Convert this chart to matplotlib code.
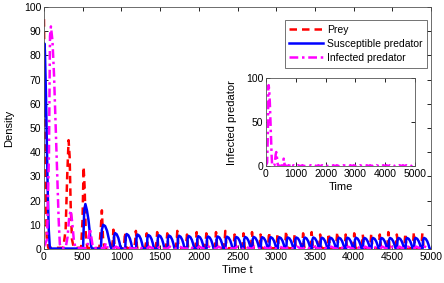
import numpy as np
import matplotlib
matplotlib.use("Agg")
import matplotlib.pyplot as plt

plt.rcParams['font.family'] = ['Liberation Sans', 'DejaVu Sans']

# ---- early transient ----
prey_t0 = [0, 8, 20, 35, 55, 250, 280, 300, 318, 332, 345, 362, 385, 480, 498, 512, 526, 540, 560, 715, 735, 748, 762, 780]
prey_y0 = [95, 70, 30, 5, 0.5, 0.5, 8, 30, 45, 38, 18, 4, 0.5, 0.5, 12, 34, 25, 6, 0.4, 0.4, 9, 16, 5, 0.4]

sus_t0 = [0, 4, 12, 25, 38, 50, 62, 75, 85, 505, 520, 535, 555, 575, 595, 610, 620, 735, 748, 765, 790, 815, 840, 860, 870]
sus_y0 = [55, 85, 82, 65, 42, 22, 8, 1, 0.2, 0.2, 16, 18.6, 16, 12, 6, 1, 0.2, 0.2, 8, 10, 9.5, 7.5, 4, 1, 0.2]

inf_t0 = [0, 40, 65, 78, 90, 110, 130, 150, 170, 190, 205, 220, 280, 305, 325, 345, 365, 385, 405, 420,
          560, 578, 595, 612, 630, 650, 780, 800, 815, 830]
inf_y0 = [1, 4, 40, 88, 92, 86, 72, 52, 32, 12, 2, 0.5, 0.5, 5, 13, 16, 11, 4, 0.8, 0.4,
          0.4, 5, 8.5, 5, 1, 0.4, 0.4, 2.5, 1, 0.4]

# ---- periodic regime: cycle onsets and peak heights ----
cycle_onsets = [900, 1050, 1190, 1330, 1465, 1595, 1725, 1850, 1975, 2100, 2225, 2345, 2465, 2580,
                2690, 2800, 2910, 3020, 3130, 3240, 3350, 3460, 3570, 3680, 3790, 3900, 4010, 4120,
                4230, 4340, 4450, 4560, 4670, 4780, 4890]
sus_peaks = [6.6, 6.2, 6.0, 5.8, 5.7, 5.6, 5.5, 5.4, 5.3, 5.2, 5.2, 5.1, 5.0, 5.0, 5.0, 4.9, 4.9, 4.9,
             4.8, 4.8, 4.8, 4.8, 4.7, 4.7, 4.7, 4.7, 4.7, 4.6, 4.6, 4.6, 4.6, 4.6, 4.6, 4.6, 4.6]
prey_peaks = [8.0, 7.0, 7.5, 6.5, 7.0, 6.5, 7.5, 6.0, 7.0, 6.5, 7.0, 7.5, 6.0, 6.5, 7.0, 6.0, 7.0, 6.5,
              7.5, 6.0, 6.5, 7.0, 6.0, 6.5, 7.0, 6.0, 6.5, 6.0, 6.5, 6.0, 7.0, 6.0, 6.5, 7.0, 6.5]
inf_peaks = [1.0] * 35

# hump profiles (time offset from onset, fraction of peak)
sus_shape_dt = [0, 6, 18, 40, 60, 76, 88, 96]
sus_shape_fr = [0.03, 0.8, 1.0, 0.92, 0.7, 0.4, 0.1, 0.03]
prey_shape_dt = [-25, -12, -3, 4, 12, 25]
prey_shape_fr = [0.05, 0.4, 1.0, 0.6, 0.1, 0.05]
inf_shape_dt = [0, 30, 60, 90]
inf_shape_fr = [0.2, 1.0, 0.5, 0.2]


def build(t0, y0, onsets, peaks, sdt, sfr):
    t = list(t0)
    y = list(y0)
    for o, p in zip(onsets, peaks):
        t += [o + d for d in sdt]
        y += [p * f for f in sfr]
    t = np.array(t, float)
    y = np.array(y, float)
    keep = t <= 5000
    return t[keep], y[keep]


pt, py = build(prey_t0, prey_y0, cycle_onsets, prey_peaks, prey_shape_dt, prey_shape_fr)
st, sy = build(sus_t0, sus_y0, cycle_onsets, sus_peaks, sus_shape_dt, sus_shape_fr)
it, iy = build(inf_t0, inf_y0, cycle_onsets, inf_peaks, inf_shape_dt, inf_shape_fr)

fig = plt.figure(figsize=(4.44, 2.83), dpi=100)
ax = fig.add_axes([0.099, 0.120, 0.872, 0.855])
lw = 1.8
ax.plot(pt, py, color='#ff0000', ls=(0, (3, 2)), lw=lw, label='Prey')
ax.plot(st, sy, color='#0000ff', ls='-', lw=lw, label='Susceptible predator')
ax.plot(it, iy, color='#ff00ff', ls=(0, (3.5, 1.5, 1, 1.5)), lw=lw, label='Infected predator')
ax.set_xlim(0, 5000)
ax.set_ylim(0, 100)
ax.set_xticks(np.arange(0, 5001, 500))
ax.set_yticks(np.arange(0, 101, 10))
ax.tick_params(direction='in', top=True, right=True, labelsize=7.5, length=3, width=0.6, pad=2)
for s in ax.spines.values():
    s.set_linewidth(0.6)
    s.set_color('#555555')
ax.set_xlabel('Time t', fontsize=8, labelpad=2)
ax.set_ylabel('Density', fontsize=8, labelpad=7)

leg = ax.legend(loc='upper right', bbox_to_anchor=(0.962, 0.929), bbox_transform=fig.transFigure,
                fontsize=7.5, frameon=True, fancybox=False, edgecolor='#333333', borderaxespad=0,
                handlelength=3.2, borderpad=0.45, labelspacing=0.4, handletextpad=0.4)
leg.get_frame().set_linewidth(0.6)

ins = fig.add_axes([0.599, 0.413, 0.336, 0.311])
ins.plot(it, iy, color='#ff00ff', ls=(0, (3.5, 1.5, 1, 1.5)), lw=lw)
ins.set_xlim(0, 5000)
ins.set_ylim(0, 100)
ins.set_xticks(np.arange(0, 5001, 1000))
ins.set_yticks([0, 50, 100])
ins.tick_params(direction='in', top=True, right=True, labelsize=7.5, length=3, width=0.6, pad=2)
for s in ins.spines.values():
    s.set_linewidth(0.6)
    s.set_color('#555555')
ins.set_xlabel('Time', fontsize=8, labelpad=2)
ins.set_ylabel('Infected predator', fontsize=8, labelpad=6)

fig.savefig('out.png', dpi=100)
